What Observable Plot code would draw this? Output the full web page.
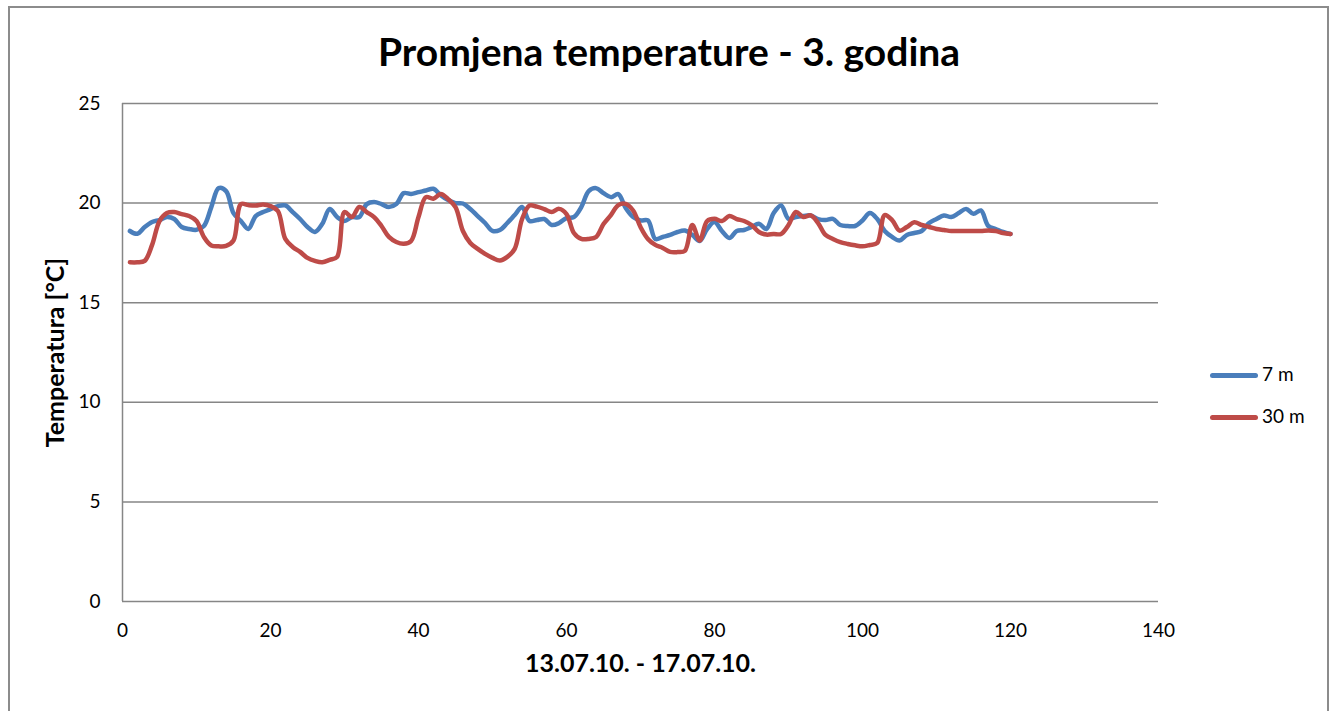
<!DOCTYPE html>
<html>
<head>
<meta charset="utf-8">
<script src="https://cdn.jsdelivr.net/npm/d3@7"></script>
<script src="https://cdn.jsdelivr.net/npm/@observablehq/plot@0.6"></script>
<style>
  html, body { margin: 0; padding: 0; background: #fff; }
  body { width: 1338px; height: 711px; position: relative; overflow: hidden; font-family: Lato, "Open Sans", sans-serif; }
  #frame { position: absolute; left: 8px; top: 6px; width: 1321px; height: 720px; border: 2px solid #8c8c8c; box-sizing: border-box; }
  #chart { position: absolute; left: 0; top: 0; }
  #title { position: absolute; left: 0; width: 1338px; top: 27px; text-align: center; font-weight: bold; font-size: 39px; line-height: 48px; color: #000; }
  .leg { position: absolute; font-size: 19px; color: #000; }
  .leg span.sw { position: absolute; left: 0; width: 48px; height: 4.5px; border-radius: 3px; }
  .leg span.tx { position: absolute; left: 52px; white-space: nowrap; }
</style>
</head>
<body>
<div id="frame"></div>
<div id="chart"></div>
<div id="title">Promjena temperature - 3. godina</div>
<div id="legend"></div>
<script>
// Series values (hourly, 13.07.10. - 17.07.10.)
const seriesNames = ["7 m", "30 m"];
const seriesColors = ["#4A7EBB", "#BE4B48"];
const temp7 = [
  18.6, 18.46, 18.8, 19.05, 19.15, 19.3, 19.2, 18.8, 18.7, 18.66,
  18.85, 19.8, 20.75, 20.6, 19.5, 19.1, 18.7, 19.35, 19.55, 19.7,
  19.85, 19.88, 19.55, 19.2, 18.8, 18.55, 18.96, 19.7, 19.3, 19.1,
  19.3, 19.3, 19.95, 20.05, 19.95, 19.8, 19.95, 20.5, 20.46, 20.55,
  20.63, 20.72, 20.4, 20.15, 20.0, 19.98, 19.7, 19.35, 19.0, 18.6,
  18.65, 19.0, 19.4, 19.8, 19.1, 19.15, 19.2, 18.9, 19.0, 19.25,
  19.3, 19.8, 20.6, 20.75, 20.5, 20.3, 20.45, 19.75, 19.3, 19.13,
  19.13, 18.2, 18.3, 18.4, 18.55, 18.62, 18.4, 18.1, 18.7, 19.05,
  18.6, 18.25, 18.6, 18.65, 18.8, 18.96, 18.7, 19.5, 19.88, 19.21,
  19.3, 19.35, 19.38, 19.2, 19.15, 19.21, 18.9, 18.85, 18.85, 19.13,
  19.5, 19.2, 18.6, 18.3, 18.12, 18.4, 18.5, 18.6, 19.0, 19.2,
  19.38, 19.3, 19.5, 19.71, 19.46, 19.63, 18.85, 18.7, 18.55, 18.45
];
const temp30 = [
  17.03, 17.03, 17.1, 17.9, 19.1, 19.5, 19.55, 19.45, 19.35, 19.1,
  18.3, 17.87, 17.83, 17.85, 18.12, 19.95, 19.9, 19.88, 19.93, 19.85,
  19.6, 18.2, 17.8, 17.55, 17.25, 17.1, 17.03, 17.15, 17.3, 19.55,
  19.3, 19.8, 19.55, 19.3, 18.85, 18.3, 18.05, 17.96, 18.1, 19.3,
  20.3, 20.22, 20.46, 20.2, 19.8, 18.6, 18.0, 17.7, 17.45, 17.25,
  17.12, 17.3, 17.7, 19.2, 19.88, 19.82, 19.7, 19.55, 19.71, 19.45,
  18.5, 18.2, 18.2, 18.3, 18.95, 19.4, 19.9, 19.96, 19.63, 18.8,
  18.2, 17.9, 17.75, 17.55, 17.54, 17.6, 18.9, 18.12, 19.1, 19.21,
  19.1, 19.35, 19.2, 19.1, 18.9, 18.55, 18.42, 18.45, 18.45, 18.9,
  19.55, 19.3, 19.38, 19.0, 18.4, 18.2, 18.04, 17.95, 17.88, 17.83,
  17.9, 18.0, 19.4, 19.15, 18.62, 18.8, 19.04, 18.9, 18.8, 18.7,
  18.65, 18.6, 18.6, 18.6, 18.6, 18.6, 18.62, 18.6, 18.5, 18.45
];
const xTicks = [0, 20, 40, 60, 80, 100, 120, 140];
const yTicks = [0, 5, 10, 15, 20, 25];
const xLabel = "13.07.10. - 17.07.10.";
const yLabel = "Temperatura [°C]";

const rows = [];
[temp7, temp30].forEach((arr, s) => arr.forEach((v, i) => rows.push({hour: i + 1, temp: v, series: seriesNames[s]})));

const chart = Plot.plot({
  width: 1338,
  height: 711,
  marginLeft: 122,
  marginRight: 180,
  marginTop: 103,
  marginBottom: 110,
  style: {fontFamily: "Lato, 'Open Sans', sans-serif", fontSize: "19px", color: "#000", background: "transparent"},
  x: {domain: [0, 140], ticks: xTicks},
  y: {domain: [0, 25], ticks: yTicks},
  color: {domain: seriesNames, range: seriesColors},
  marks: [
    Plot.ruleY(yTicks.filter(d => d > 0), {stroke: "#868686", strokeWidth: 1.5, strokeOpacity: 1}),
    Plot.ruleY([0], {stroke: "#868686", strokeWidth: 1.5, strokeOpacity: 1}),
    Plot.ruleX([0], {stroke: "#868686", strokeWidth: 1.5, strokeOpacity: 1}),
    Plot.axisY({ticks: yTicks, tickSize: 0, tickPadding: 22, label: null, fontSize: 19}),
    Plot.axisX({ticks: xTicks, tickSize: 0, tickPadding: 22, label: null, fontSize: 19}),
    Plot.line(rows, {x: "hour", y: "temp", z: "series", stroke: "series", strokeWidth: 4.5, curve: "catmull-rom", strokeLinecap: "round", strokeLinejoin: "round"}),
    Plot.text([xLabel], {frameAnchor: "bottom", dy: 70, text: d => d, fontWeight: "bold", fontSize: 25, fill: "#000"}),
    Plot.text([yLabel], {frameAnchor: "left", dx: -67, rotate: -90, textAnchor: "middle", text: d => d, fontWeight: "bold", fontSize: 25, fill: "#000"})
  ]
});
document.getElementById("chart").appendChild(chart);

// Legend
const legend = document.getElementById("legend");
const legendY = [375, 417];
seriesNames.forEach((name, i) => {
  const item = document.createElement("div");
  item.className = "leg";
  item.style.left = "1210px";
  item.style.top = legendY[i] + "px";
  const sw = document.createElement("span");
  sw.className = "sw";
  sw.style.background = seriesColors[i];
  sw.style.top = "-2px";
  const tx = document.createElement("span");
  tx.className = "tx";
  tx.style.top = "-13px";
  tx.textContent = name;
  item.appendChild(sw);
  item.appendChild(tx);
  legend.appendChild(item);
});
</script>
</body>
</html>
